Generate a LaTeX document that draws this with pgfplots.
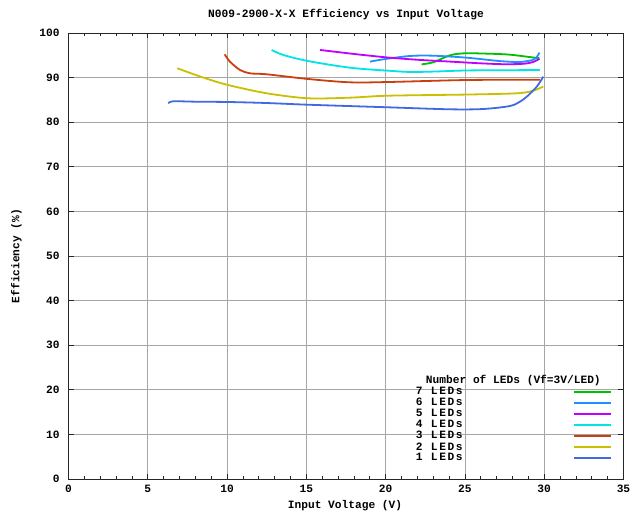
\documentclass[border=0pt]{standalone}
\usepackage{fontspec}
\setmainfont{Liberation Mono}
\newfontfamily\legfont[LetterSpace=14]{Liberation Mono}
\usepackage{pgfplots}
\pgfplotsset{compat=1.18}
\definecolor{c7}{HTML}{00C000}
\definecolor{c6}{HTML}{2090FF}
\definecolor{c5}{HTML}{C000FF}
\definecolor{c4}{HTML}{00E4E4}
\definecolor{c3}{HTML}{C84010}
\definecolor{c2}{HTML}{C8C000}
\definecolor{c1}{HTML}{4169E1}
\newcommand\tf{\fontsize{11.2}{12}\selectfont\bfseries}
\begin{document}
\tf
\begin{tikzpicture}
\path[use as bounding box] (-68.5pt,-33pt) rectangle (572.5pt,479pt);
\begin{axis}[
  at={(0pt,0pt)}, anchor=south west, scale only axis,
  width=555pt, height=446pt,
  xmin=0, xmax=35, ymin=0, ymax=100,
  xtick={0,5,...,35}, ytick={0,10,...,100}, minor x tick num=4,
  grid=major, major grid style={color=black!35, line width=0.8pt},
  axis line style={line width=0.8pt, black!85},
  tick style={black!85, line width=0.8pt},
  major tick length=5pt, minor tick length=3pt,
  tick label style={font=\tf},
  /pgf/number format/assume math mode=true,
  xticklabel style={yshift=-2pt},
  yticklabel style={xshift=-5pt},
  every axis plot/.append style={line width=1.8pt, smooth},
  legend style={at={(0.6261,0.2317)}, anchor=north west, draw=none, fill=none,
    inner sep=0pt, outer sep=0pt, row sep=1.9pt, column sep=0pt,
    nodes={inner sep=0pt, outer sep=0pt},
    font=\tf},
  legend cell align=left, legend plot pos=right,
  legend image code/.code={\draw[#1, line width=1.8pt] plot coordinates {(0pt,0pt) (37pt,0pt)};},
]
\addlegendimage{empty legend}
\addlegendentry{\hspace{10pt}\makebox[0pt][l]{Number of LEDs (Vf=3V/LED)}}
\addplot[c7] coordinates {(22.27,92.98)(23.01,93.43)(24.06,95.0)(25.0,95.45)(26.58,95.35)(27.84,95.14)(29.42,94.46)(29.7,94.4)};
\addlegendentry{\makebox[157pt][l]{\legfont 7 LEDs}}
\addplot[c6] coordinates {(19.01,93.57)(19.85,94.10)(21.54,94.85)(23.01,94.91)(25.13,94.46)(27.21,93.7)(28.47,93.5)(29.3,94.0)(29.55,94.7)(29.7,95.6)};
\addlegendentry{\makebox[157pt][l]{\legfont 6 LEDs}}
\addplot[c5] coordinates {(15.86,96.2)(18,95.3)(20.15,94.5)(22,94.0)(24,93.6)(26,93.2)(27.5,93.0)(28.7,93.1)(29.3,93.5)(29.7,94.2)};
\addlegendentry{\makebox[157pt][l]{\legfont 5 LEDs}}
\addplot[c4] coordinates {(12.81,96.19)(13.55,95.07)(15.10,93.72)(17.75,92.22)(20.15,91.55)(21.54,91.26)(23,91.35)(25.13,91.6)(27.5,91.65)(29.73,91.7)};
\addlegendentry{\makebox[157pt][l]{\legfont 4 LEDs}}
\addplot[c3] coordinates {(9.85,95.22)(10.18,93.57)(10.82,91.70)(11.45,90.96)(12.5,90.74)(15.10,89.69)(17.75,88.94)(20.15,89.01)(25.13,89.46)(29.73,89.53)};
\addlegendentry{\makebox[157pt][l]{\legfont 3 LEDs}}
\addplot[c2] coordinates {(6.86,92.09)(8.5,90.0)(10.06,88.34)(12.5,86.48)(15.10,85.36)(17.75,85.5)(20.15,85.94)(25.13,86.2)(28.27,86.48)(29.31,87.06)(29.94,88.0)};
\addlegendentry{\makebox[157pt][l]{\legfont 2 LEDs}}
\addplot[c1] coordinates {(6.29,84.24)(6.61,84.69)(8,84.6)(10.06,84.53)(12.5,84.3)(15.10,83.92)(20.15,83.34)(24.06,82.89)(26.16,82.96)(27.84,83.63)(28.47,84.6)(28.90,85.72)(29.53,87.96)(29.94,90.2)};
\addlegendentry{\makebox[157pt][l]{\legfont 1 LEDs}}
\end{axis}
\node[font=\tf] at (277.5pt,464pt) {N009-2900-X-X Efficiency vs Input Voltage};
\node[font=\tf] at (276.5pt,-27pt) {Input Voltage (V)};
\node[font=\tf, rotate=90] at (-52pt,223pt) {Efficiency (\%)};
\end{tikzpicture}
\end{document}
